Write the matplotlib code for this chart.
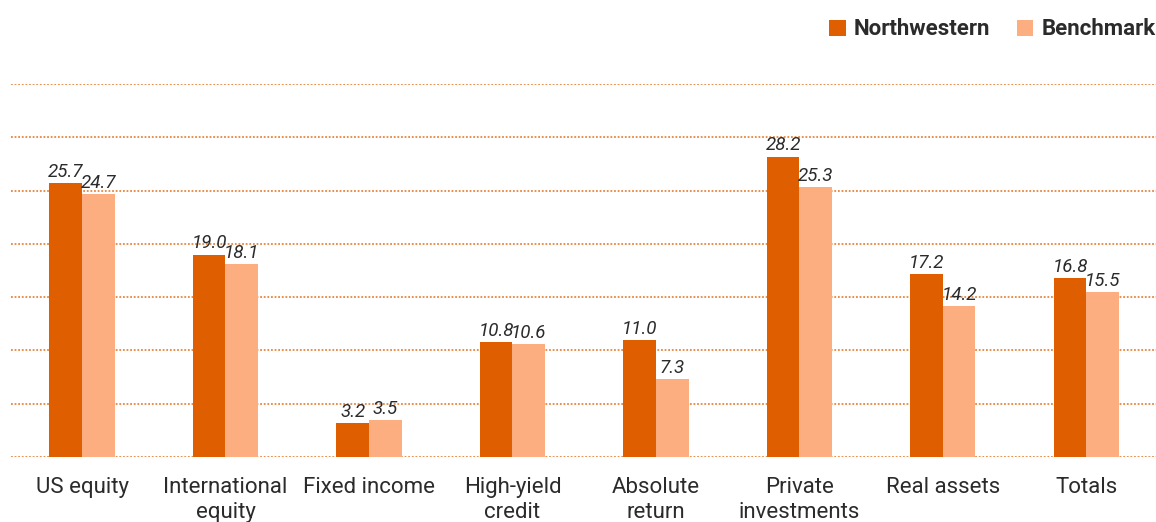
import matplotlib
matplotlib.use("Agg")
import matplotlib.pyplot as plt
import numpy as np

categories = ["US equity", "International\nequity", "Fixed income", "High-yield\ncredit",
              "Absolute\nreturn", "Private\ninvestments", "Real assets", "Totals"]
northwestern = [25.7, 19.0, 3.2, 10.8, 11.0, 28.2, 17.2, 16.8]
benchmark = [24.7, 18.1, 3.5, 10.6, 7.3, 25.3, 14.2, 15.5]
series_names = ["Northwestern", "Benchmark"]

fam = "Roboto"
plt.rcParams['font.family'] = [fam, 'DejaVu Sans']

dark = "#DE5E00"
light = "#FCAE80"
grid_c = "#E8863F"
text_c = "#2B2B2B"

fig = plt.figure(figsize=(11.56, 5.22), dpi=100)
ax = fig.add_axes([0.0095, 0.1245, 0.9905, 0.7145])

x = np.arange(len(categories))
w = 0.227
b1 = ax.bar(x - w / 2, northwestern, w, color=dark, label=series_names[0], zorder=3)
b2 = ax.bar(x + w / 2, benchmark, w, color=light, label=series_names[1], zorder=3)

for bars, vals in ((b1, northwestern), (b2, benchmark)):
    for r, v in zip(bars, vals):
        ax.text(r.get_x() + r.get_width() / 2, v + 0.2, f"{v:.1f}", ha="center", va="bottom",
                fontsize=13.5, style="italic", color=text_c, zorder=4)

ax.set_xlim(-0.495, 7.485)
ax.set_ylim(0, 35)
ax.set_yticks(np.arange(0, 36, 5))
ax.yaxis.grid(True, color=grid_c, linestyle=(0, (1, 1)), linewidth=1.3, zorder=0)
ax.tick_params(axis="y", left=False, labelleft=False)
ax.tick_params(axis="x", bottom=False, pad=11)
ax.set_xticks(x)
ax.set_xticklabels(categories, fontsize=16, color=text_c, linespacing=1.25, va="top")
for s in ax.spines.values():
    s.set_visible(False)

leg = fig.legend(handles=[b1, b2], labels=series_names, loc="upper left",
                 bbox_to_anchor=(0.700, 1.003), ncol=2, frameon=False,
                 handlelength=0.75, handleheight=0.75, handletextpad=0.35,
                 columnspacing=1.2, prop={"family": fam, "weight": "bold", "size": 16})
for t in leg.get_texts():
    t.set_color(text_c)

fig.savefig("out.png", dpi=100)
